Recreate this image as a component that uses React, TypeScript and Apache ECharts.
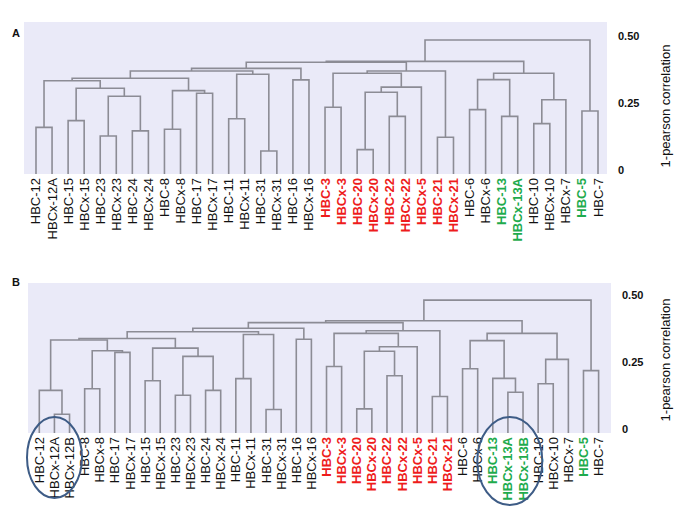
import React, { useEffect, useRef } from 'react';
import * as echarts from 'echarts';

// Leaf order (panel A)
const leavesA = [
  'HBC-12', 'HBCx-12A', 'HBC-15', 'HBCx-15', 'HBC-23', 'HBCx-23', 'HBC-24', 'HBCx-24',
  'HBC-8', 'HBCx-8', 'HBC-17', 'HBCx-17', 'HBC-11', 'HBCx-11', 'HBC-31', 'HBCx-31',
  'HBC-16', 'HBCx-16', 'HBC-3', 'HBCx-3', 'HBC-20', 'HBCx-20', 'HBC-22', 'HBCx-22',
  'HBCx-5', 'HBC-21', 'HBCx-21', 'HBC-6', 'HBCx-6', 'HBC-13', 'HBCx-13A', 'HBC-10',
  'HBCx-10', 'HBCx-7', 'HBC-5', 'HBC-7',
];
// Merges (panel A): [child a, child b, height]; leaves are 0..35, merges numbered from 36
const mergesA: [number, number, number][] = [
  [0, 1, 0.159], [2, 3, 0.184], [4, 5, 0.127], [6, 7, 0.146], [38, 39, 0.275],
  [37, 40, 0.305], [36, 41, 0.333], [8, 9, 0.152], [10, 11, 0.286], [43, 44, 0.296],
  [42, 45, 0.342], [12, 13, 0.191], [14, 15, 0.071], [47, 48, 0.357], [46, 49, 0.369],
  [16, 17, 0.336], [50, 51, 0.379], [18, 19, 0.234], [20, 21, 0.076], [22, 23, 0.2],
  [54, 55, 0.29], [56, 24, 0.309], [53, 57, 0.361], [25, 26, 0.122], [58, 59, 0.369],
  [52, 60, 0.402], [27, 28, 0.225], [29, 30, 0.2], [62, 63, 0.337], [31, 32, 0.173],
  [65, 33, 0.262], [64, 66, 0.361], [61, 67, 0.405], [34, 35, 0.22], [68, 69, 0.485],
];

// Leaf order (panel B)
const leavesB = [
  'HBC-12', 'HBCx-12A', 'HBCx-12B', 'HBC-8', 'HBCx-8', 'HBC-17', 'HBCx-17', 'HBC-15',
  'HBCx-15', 'HBC-23', 'HBCx-23', 'HBC-24', 'HBCx-24', 'HBC-11', 'HBCx-11', 'HBC-31',
  'HBCx-31', 'HBC-16', 'HBCx-16', 'HBC-3', 'HBCx-3', 'HBC-20', 'HBCx-20', 'HBC-22',
  'HBCx-22', 'HBCx-5', 'HBC-21', 'HBCx-21', 'HBC-6', 'HBCx-6', 'HBC-13', 'HBCx-13A',
  'HBCx-13B', 'HBC-10', 'HBCx-10', 'HBCx-7', 'HBC-5', 'HBC-7',
];
// Merges (panel B): leaves 0..37, merges numbered from 38
const mergesB: [number, number, number][] = [
  [1, 2, 0.055], [0, 38, 0.144], [3, 4, 0.15], [5, 6, 0.286], [40, 41, 0.292],
  [39, 42, 0.332], [7, 8, 0.18], [9, 10, 0.126], [11, 12, 0.144], [45, 46, 0.271],
  [44, 47, 0.302], [43, 48, 0.338], [13, 14, 0.188], [15, 16, 0.073], [50, 51, 0.353],
  [49, 52, 0.363], [17, 18, 0.335], [53, 54, 0.376], [19, 20, 0.233], [21, 22, 0.075],
  [23, 24, 0.199], [57, 58, 0.29], [59, 25, 0.307], [56, 60, 0.357], [26, 27, 0.121],
  [61, 62, 0.367], [55, 63, 0.397], [28, 29, 0.225], [31, 32, 0.137], [30, 66, 0.189],
  [65, 67, 0.33], [33, 34, 0.169], [69, 35, 0.26], [68, 70, 0.357], [64, 71, 0.404],
  [36, 37, 0.218], [72, 73, 0.481],
];

const redLabels = ['HBC-3', 'HBCx-3', 'HBC-20', 'HBCx-20', 'HBC-22', 'HBCx-22', 'HBCx-5', 'HBC-21', 'HBCx-21'];
const greenLabels = ['HBC-13', 'HBCx-13A', 'HBCx-13B', 'HBC-5'];
const yTicks = [0, 0.25, 0.5];
const axisTitle = '1-pearson correlation';

const Y_MIN = -0.015;
const LINE = '#8c8c95';
const BG = '#eaeaf8';
const RED = '#ee1c1c';
const GREEN = '#1fab4d';
const FONT = "'Liberation Sans', Arial, sans-serif";

function buildLinks(nLeaves: number, merges: [number, number, number][], base: number) {
  const xs: number[] = [];
  const hs: number[] = [];
  for (let i = 0; i < nLeaves; i++) {
    xs.push(i);
    hs.push(base);
  }
  const rows: number[][] = [];
  merges.forEach(([a, b, h]) => {
    rows.push([xs[a], hs[a], xs[b], hs[b], h]);
    xs.push((xs[a] + xs[b]) / 2);
    hs.push(h);
  });
  return rows;
}

function labelFormatter(leaves: string[]) {
  return (v: number) => {
    const name = leaves[Math.round(v)] ?? '';
    if (redLabels.includes(name)) return `{r|${name}}`;
    if (greenLabels.includes(name)) return `{g|${name}}`;
    return `{n|${name}}`;
  };
}

const rich = {
  r: { color: RED, fontWeight: 'bold' as const, fontSize: 13, fontFamily: FONT },
  g: { color: GREEN, fontWeight: 'bold' as const, fontSize: 13, fontFamily: FONT },
  n: { color: '#111', fontSize: 13, fontFamily: FONT },
};

function renderLink(params: any, api: any) {
  const p1 = api.coord([api.value(0), api.value(1)]);
  const p2 = api.coord([api.value(0), api.value(4)]);
  const p3 = api.coord([api.value(2), api.value(4)]);
  const p4 = api.coord([api.value(2), api.value(3)]);
  return {
    type: 'polyline',
    shape: { points: [p1, p2, p3, p4] },
    style: { stroke: LINE, lineWidth: 1.6, fill: null },
  };
}

export default function App() {
  const ref = useRef<HTMLDivElement>(null);

  useEffect(() => {
    if (!ref.current) return;
    const chart = echarts.init(ref.current, undefined, { renderer: 'svg' });

    const linksA = buildLinks(leavesA.length, mergesA, Y_MIN);
    const linksB = buildLinks(leavesB.length, mergesB, Y_MIN);

    const xAxisBase = (leaves: string[], gridIndex: number, min: number, max: number) => ({
      type: 'value',
      gridIndex,
      min,
      max,
      axisLine: { show: false },
      axisTick: { show: false },
      splitLine: { show: false },
      axisLabel: {
        customValues: leaves.map((_, i) => i),
        formatter: labelFormatter(leaves),
        rotate: 90,
        margin: 4,
        rich,
        fontSize: 13,
        fontFamily: FONT,
      },
    });

    const yAxisBase = (gridIndex: number, max: number) => ({
      type: 'value',
      gridIndex,
      position: 'right',
      min: Y_MIN,
      max,
      axisLine: { show: false },
      axisTick: { show: false },
      splitLine: { show: false },
      axisLabel: {
        customValues: yTicks,
        formatter: (v: number) => (v === 0 ? '0' : v.toFixed(2)),
        fontWeight: 'bold',
        fontSize: 11,
        fontFamily: FONT,
        color: '#111',
        margin: 11,
      },
    });

    chart.setOption({
      animation: false,
      grid: [
        { left: 24, top: 22, width: 583, height: 152, show: true, backgroundColor: BG, borderWidth: 0 },
        { left: 28, top: 283, width: 583, height: 150, show: true, backgroundColor: BG, borderWidth: 0 },
      ],
      xAxis: [
        xAxisBase(leavesA, 0, -0.747, 35.56),
        xAxisBase(leavesB, 1, -0.748, 37.82),
      ],
      yAxis: [yAxisBase(0, 0.552), yAxisBase(1, 0.545)],
      series: [
        {
          type: 'custom',
          xAxisIndex: 0,
          yAxisIndex: 0,
          dimensions: ['x1', 'y1', 'x2', 'y2', 'h'],
          encode: { x: [0, 2], y: [1, 3, 4] },
          data: linksA,
          renderItem: renderLink,
          silent: true,
        },
        {
          type: 'custom',
          xAxisIndex: 1,
          yAxisIndex: 1,
          dimensions: ['x1', 'y1', 'x2', 'y2', 'h'],
          encode: { x: [0, 2], y: [1, 3, 4] },
          data: linksB,
          renderItem: renderLink,
          silent: true,
        },
      ],
      graphic: [
        { type: 'text', left: 12, top: 27, style: { text: 'A', fontSize: 11, fontWeight: 'bold', fontFamily: FONT, fill: '#111' } },
        { type: 'text', left: 12, top: 276, style: { text: 'B', fontSize: 11, fontWeight: 'bold', fontFamily: FONT, fill: '#111' } },
        {
          type: 'text', x: 665, y: 106, rotation: Math.PI / 2,
          style: { text: axisTitle, fontSize: 13, fontFamily: FONT, fill: '#111', align: 'center', verticalAlign: 'middle' },
        },
        {
          type: 'text', x: 665, y: 360, rotation: Math.PI / 2,
          style: { text: axisTitle, fontSize: 13, fontFamily: FONT, fill: '#111', align: 'center', verticalAlign: 'middle' },
        },
        {
          type: 'ellipse', z: 100,
          shape: { cx: 54.5, cy: 457.5, rx: 27.5, ry: 40.5 },
          style: { fill: 'none', stroke: '#3e5c86', lineWidth: 2 },
        },
        {
          type: 'ellipse', z: 100,
          shape: { cx: 509.8, cy: 461, rx: 32.5, ry: 44 },
          style: { fill: 'none', stroke: '#3e5c86', lineWidth: 2 },
        },
      ],
    });

    return () => chart.dispose();
  }, []);

  return <div ref={ref} style={{ position: 'absolute', left: 0, top: 0, width: 685, height: 513 }} />;
}
